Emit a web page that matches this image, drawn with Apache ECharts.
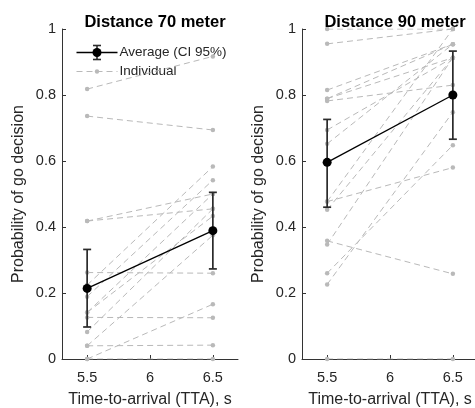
<!DOCTYPE html>
<html>
<head>
<meta charset="utf-8">
<script src="https://cdn.jsdelivr.net/npm/echarts@6/dist/echarts.min.js"></script>
<style>
  html, body { margin: 0; padding: 0; background: #ffffff; }
  #chart { width: 475px; height: 408px; }
</style>
</head>
<body>
<div id="chart"></div>
<script>
// Time-to-arrival conditions (s) and axis ticks
const tta = [5.5, 6.5];
const xTickValues = [5.5, 6, 6.5];
const panelTitles = ['Distance 70 meter', 'Distance 90 meter'];

// Individual participants, distance 70 m: probability at TTA 5.5 s and 6.5 s (same index = same participant)
const indiv70At55 = [0.818, 0.736, 0.418, 0.418, 0.262, 0.224, 0.189, 0.141, 0.141, 0.126, 0.082, 0.040, 0.040, 0.000, 0.000];
const indiv70At65 = [0.917, 0.694, 0.455, 0.500, 0.260, 0.583, 0.542, 0.500, 0.433, 0.125, 0.455, 0.375, 0.042, 0.166, 0.000];

// Individual participants, distance 90 m
const indiv90At55 = [1.000, 0.955, 0.815, 0.789, 0.782, 0.789, 0.694, 0.652, 0.477, 0.477, 0.452, 0.358, 0.347, 0.260, 0.226, 0.000];
const indiv90At65 = [1.000, 1.000, 0.954, 0.954, 0.830, 0.913, 0.913, 0.954, 0.580, 1.000, 0.913, 0.258, 0.913, 0.648, 0.748, 0.000];

// Group average with 95% confidence interval
const mean70 = [0.214, 0.389];
const ciLow70 = [0.097, 0.273];
const ciHigh70 = [0.332, 0.505];
const mean90 = [0.596, 0.800];
const ciLow90 = [0.460, 0.666];
const ciHigh90 = [0.726, 0.933];

const FONT = "'Liberation Sans', Arial, Helvetica, sans-serif";
const AXIS_COLOR = '#333333';
const GREY = '#b9b9b9';

const chart = echarts.init(document.getElementById('chart'), null, { renderer: 'canvas' });

const panels = [
  { at55: indiv70At55, at65: indiv70At65, mean: mean70, lo: ciLow70, hi: ciHigh70 },
  { at55: indiv90At55, at65: indiv90At65, mean: mean90, lo: ciLow90, hi: ciHigh90 }
];

// fixed plot boxes; the right panel runs slightly past the canvas edge
const grids = [
  { left: 62, top: 29, width: 176, height: 330, outerBoundsMode: 'none', containLabel: false },
  { left: 302, top: 29, width: 176, height: 330, outerBoundsMode: 'none', containLabel: false }
];

const xAxes = grids.map((g, i) => ({
  type: 'value', gridIndex: i, min: 5.3, max: 6.7,
  name: 'Time-to-arrival (TTA), s', nameLocation: 'middle', nameGap: 33,
  nameTextStyle: { fontFamily: FONT, fontSize: 16, color: '#262626' },
  axisLine: { show: true, onZero: false, lineStyle: { color: AXIS_COLOR, width: 1 } },
  axisTick: { show: true, inside: true, length: 4, customValues: xTickValues, lineStyle: { color: AXIS_COLOR } },
  axisLabel: { customValues: xTickValues, margin: 11, fontFamily: FONT, fontSize: 14.5, color: '#262626' },
  splitLine: { show: false }
}));

const yAxes = grids.map((g, i) => ({
  type: 'value', gridIndex: i, min: 0, max: 1, interval: 0.2,
  name: 'Probability of go decision', nameLocation: 'middle', nameGap: 35,
  nameTextStyle: { fontFamily: FONT, fontSize: 16, color: '#262626' },
  axisLine: { show: true, lineStyle: { color: AXIS_COLOR, width: 1 } },
  axisTick: { show: true, inside: true, length: 4, lineStyle: { color: AXIS_COLOR } },
  axisLabel: { margin: 6, fontFamily: FONT, fontSize: 14.5, color: '#262626' },
  splitLine: { show: false }
}));

const series = [];
panels.forEach((p, pi) => {
  // one dashed grey line per participant
  p.at55.forEach((v, k) => {
    series.push({
      type: 'line', name: 'Individual', xAxisIndex: pi, yAxisIndex: pi,
      data: [[tta[0], v], [tta[1], p.at65[k]]],
      symbol: 'circle', symbolSize: 4.5, silent: true, z: 2,
      lineStyle: { color: GREY, width: 1, type: [6, 4] },
      itemStyle: { color: GREY }
    });
  });
  // confidence interval error bars
  series.push({
    type: 'custom', name: 'CI', xAxisIndex: pi, yAxisIndex: pi, z: 4, silent: true,
    data: tta.map((x, k) => [x, p.lo[k], p.hi[k]]),
    encode: { x: 0, y: [1, 2] },
    renderItem: (params, api) => {
      const top = api.coord([api.value(0), api.value(2)]);
      const bot = api.coord([api.value(0), api.value(1)]);
      const cap = 4;
      const style = { stroke: '#2b2b2b', lineWidth: 1.7 };
      return {
        type: 'group',
        children: [
          { type: 'line', shape: { x1: top[0], y1: top[1], x2: bot[0], y2: bot[1] }, style },
          { type: 'line', shape: { x1: top[0] - cap, y1: top[1], x2: top[0] + cap, y2: top[1] }, style },
          { type: 'line', shape: { x1: bot[0] - cap, y1: bot[1], x2: bot[0] + cap, y2: bot[1] }, style }
        ]
      };
    }
  });
  // group average
  series.push({
    type: 'line', name: 'Average (CI 95%)', xAxisIndex: pi, yAxisIndex: pi,
    data: tta.map((x, k) => [x, p.mean[k]]),
    symbol: 'circle', symbolSize: 9, silent: true, z: 5,
    lineStyle: { color: '#000000', width: 1.3 },
    itemStyle: { color: '#000000' }
  });
});

// legend drawn in the upper left of the first panel
const legend = {
  type: 'group', left: 74, top: 43,
  children: [
    { type: 'line', shape: { x1: 0, y1: 9, x2: 41, y2: 9 }, style: { stroke: '#000', lineWidth: 1.3 } },
    { type: 'line', shape: { x1: 20.5, y1: 2, x2: 20.5, y2: 16 }, style: { stroke: '#2b2b2b', lineWidth: 1.6 } },
    { type: 'line', shape: { x1: 16.5, y1: 2, x2: 24.5, y2: 2 }, style: { stroke: '#2b2b2b', lineWidth: 1.6 } },
    { type: 'line', shape: { x1: 16.5, y1: 16, x2: 24.5, y2: 16 }, style: { stroke: '#2b2b2b', lineWidth: 1.6 } },
    { type: 'circle', shape: { cx: 20.5, cy: 9, r: 4.5 }, style: { fill: '#000' } },
    { type: 'text', x: 43, y: 9, style: { text: 'Average (CI 95%)', fontFamily: FONT, fontSize: 13.5, fill: '#262626', verticalAlign: 'middle' } },
    { type: 'line', shape: { x1: 0, y1: 28, x2: 41, y2: 28 }, style: { stroke: GREY, lineWidth: 1, lineDash: [6, 4] } },
    { type: 'circle', shape: { cx: 20.5, cy: 28, r: 2.2 }, style: { fill: GREY } },
    { type: 'text', x: 43, y: 28, style: { text: 'Individual', fontFamily: FONT, fontSize: 13.5, fill: '#262626', verticalAlign: 'middle' } }
  ]
};

chart.setOption({
  animation: false,
  backgroundColor: '#ffffff',
  title: panelTitles.map((t, i) => ({
    text: t, left: grids[i].left + grids[i].width / 2, top: 9, textAlign: 'center',
    textStyle: { fontFamily: FONT, fontSize: 16.5, fontWeight: 'bold', color: '#000000' }
  })),
  grid: grids,
  xAxis: xAxes,
  yAxis: yAxes,
  series: series,
  graphic: [legend]
});
</script>
</body>
</html>
